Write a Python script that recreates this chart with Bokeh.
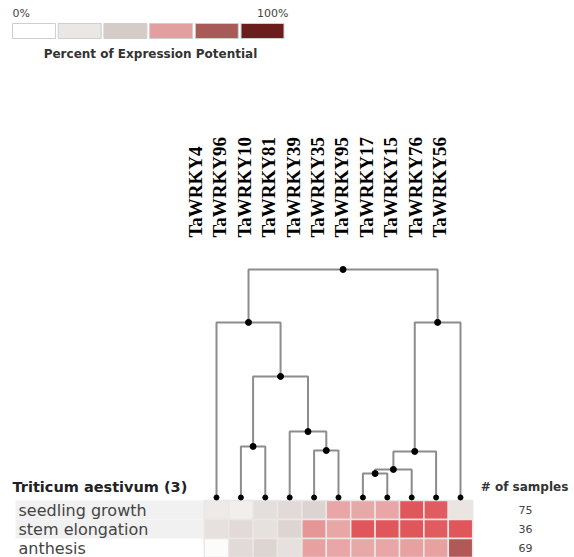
import numpy as np
from bokeh.plotting import figure
from bokeh.models import Range1d, LinearColorMapper, ColumnDataSource
from bokeh.core.properties import value
from bokeh.embed import file_html
from bokeh.resources import INLINE

# ---- data -------------------------------------------------------------
genes = ["TaWRKY4", "TaWRKY96", "TaWRKY10", "TaWRKY81", "TaWRKY39", "TaWRKY35",
         "TaWRKY95", "TaWRKY17", "TaWRKY15", "TaWRKY76", "TaWRKY56"]
stages = ["seedling growth", "stem elongation", "anthesis"]
n_samples = [75, 36, 69]
organism = "Triticum aestivum (3)"

# percent of expression potential, one list per developmental stage
seedling_growth = [18, 15, 27, 30, 35, 55, 54, 55, 70, 69, 22]
stem_elongation = [25, 30, 25, 34, 58, 55, 70, 70, 70, 69, 70]
anthesis = [3, 30, 34, 25, 56, 55, 54, 55, 56, 56, 82]

# hierarchical clustering merges: (left node, right node, distance)
# leaves are 0..10, merged clusters are numbered 11, 12, ...
merges = [
    (1, 2, 0.224),
    (4, 5, 0.206),
    (3, 12, 0.289),
    (11, 13, 0.531),
    (0, 14, 0.768),
    (6, 7, 0.105),
    (16, 8, 0.123),
    (17, 9, 0.202),
    (18, 10, 0.768),
    (15, 19, 1.000),
]

legend_labels = ["0%", "100%"]
legend_title = "Percent of Expression Potential"
legend_colors = ["#ffffff", "#ebe7e5", "#d5ccc7", "#e39f9f", "#a75a58", "#6b1d1d"]

# ---- colour scale -----------------------------------------------------
stops = [0.0, 0.2, 0.4, 0.55, 0.7, 0.85, 1.0]
stop_colors = ["#ffffff", "#ece8e6", "#d6cdc9", "#e8a6a6", "#e0575b", "#a65a57", "#6b1d1d"]


def hex_to_rgb(h):
    h = h.lstrip("#")
    return [int(h[i:i + 2], 16) for i in (0, 2, 4)]


rgb = np.array([hex_to_rgb(c) for c in stop_colors], dtype=float)
t = np.linspace(0, 1, 201)
palette = ["#%02x%02x%02x" % tuple(int(round(np.interp(v, stops, rgb[:, k]))) for k in range(3))
           for v in t]
mapper = LinearColorMapper(palette=palette, low=0, high=100)

# ---- figure -----------------------------------------------------------
W, H = 574, 557
p = figure(width=W, height=H, output_backend="svg", toolbar_location=None,
           x_range=Range1d(-8.852, 14.672), y_range=Range1d(2.5, -26.816),
           x_axis_type=None, y_axis_type=None, min_border=0,
           outline_line_color=None, background_fill_color="white")
p.grid.visible = False
p.extra_y_ranges = {"dend": Range1d(-0.2632, 2.1798), "px": Range1d(H, 0)}
p.extra_x_ranges = {"px": Range1d(0, W), "leg": Range1d(-0.733, 11.827)}

# light bands behind the stage labels
p.hbar(y=[0, 1], left=15, right=204, height=1.0, x_range_name="px",
       fill_color="#f1f1f1", line_color=None)

# heatmap
rows = [seedling_growth, stem_elongation, anthesis]
hx, hy, hv = [], [], []
for r, vals in enumerate(rows):
    for c, v in enumerate(vals):
        hx.append(c)
        hy.append(r)
        hv.append(v)
p.rect(x="x", y="y", width=1, height=1,
       source=ColumnDataSource(dict(x=hx, y=hy, v=hv)),
       fill_color={"field": "v", "transform": mapper},
       line_color="#ebe7e6", line_width=1.5)

# dendrogram
pos = {i: (float(i), 0.0) for i in range(len(genes))}
xs, ys, nx, ny = [], [], [], []
for k, (a, b, d) in enumerate(merges):
    xa, ha = pos[a]
    xb, hb = pos[b]
    xs.append([xa, xa, xb, xb])
    ys.append([ha, d, d, hb])
    xm = (xa + xb) / 2
    pos[len(genes) + k] = (xm, d)
    nx.append(xm)
    ny.append(d)
p.multi_line(xs, ys, y_range_name="dend", line_color="#8c8c8c", line_width=2)
p.scatter(nx, ny, y_range_name="dend", size=6, color="black")
p.scatter(list(range(len(genes))), [0] * len(genes), y_range_name="dend",
          size=5, color="black")

# gene labels
p.text(x=list(range(len(genes))), y=[1.14] * len(genes), text=genes,
       y_range_name="dend", angle=np.pi / 2, x_offset=-21,
       text_align="left", text_baseline="middle",
       text_font=value("Liberation Serif"), text_font_style="bold",
       text_font_size="19px", text_color="black")

# stage labels, organism title and sample counts
p.text(x=[18] * 3, y=[0, 1, 2], text=stages, x_range_name="px",
       text_align="left", text_baseline="middle",
       text_font=value("DejaVu Sans"), text_font_size="16px", text_color="#444444")
p.text(x=[12], y=[486], text=[organism], x_range_name="px", y_range_name="px",
       text_align="left", text_baseline="middle",
       text_font=value("DejaVu Sans"), text_font_style="bold",
       text_font_size="14.5px", text_color="#222222")
p.text(x=[524], y=[486], text=["# of samples"], x_range_name="px", y_range_name="px",
       text_align="center", text_baseline="middle",
       text_font=value("DejaVu Sans"), text_font_style="bold",
       text_font_size="12px", text_color="#333333")
p.text(x=[525] * 3, y=[0, 1, 2], text=[str(n) for n in n_samples], x_range_name="px",
       text_align="center", text_baseline="middle",
       text_font=value("DejaVu Sans"), text_font_size="11px", text_color="#444444")

# colour legend
p.rect(x=list(range(len(legend_colors))), y=[30.5] * len(legend_colors),
       width=0.94, height=15, x_range_name="leg", y_range_name="px",
       fill_color=legend_colors, line_color="#cfcfcf", line_width=1)
p.text(x=[12, 288], y=[13, 13], text=legend_labels, x_range_name="px", y_range_name="px",
       text_align=["left", "right"], text_baseline="middle",
       text_font=value("DejaVu Sans"), text_font_size="11px", text_color="#444444")
p.text(x=[150], y=[53], text=[legend_title], x_range_name="px", y_range_name="px",
       text_align="center", text_baseline="middle",
       text_font=value("DejaVu Sans"), text_font_style="bold",
       text_font_size="12px", text_color="#333333")

open("out.html", "w").write(file_html(p, INLINE))
